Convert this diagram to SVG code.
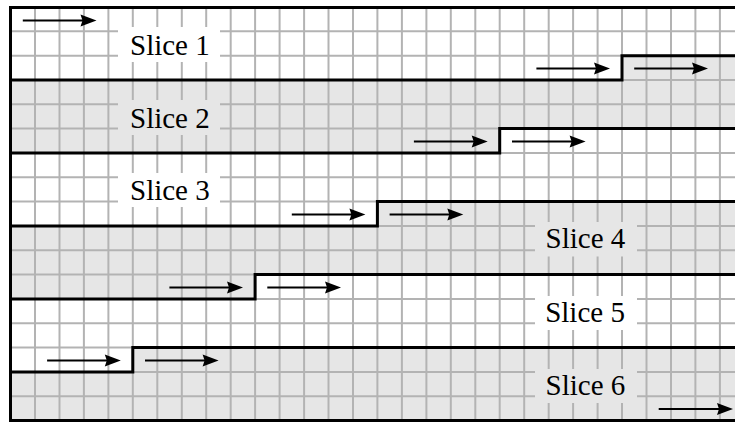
<svg xmlns="http://www.w3.org/2000/svg" width="735" height="422" viewBox="0 0 735 422">
  <style>
    .shade { fill: #e6e6e6; stroke: none; }
    .grid line { stroke: #b3b3b3; stroke-width: 2; }
    .bg-white { fill: #ffffff; }
    .bg-gray { fill: #e6e6e6; }
    .boundary { fill: none; stroke: #000000; stroke-width: 3; stroke-linejoin: miter; }
    .frame { fill: none; stroke: #000000; stroke-width: 3; }
    .shaft { stroke: #000000; stroke-width: 2; }
  </style>
  <defs>
    <path id="head" d="M0,0 L-16,-6 L-14,0 L-16,6 Z" fill="#000000"/>
  </defs>

  <rect x="0" y="0" width="735" height="422" fill="#ffffff"/>

  <!-- shaded slices 2, 4, 6 -->
  <g id="slice-fills">
    <polygon class="shade" points="10.5,80 622,80 622,55.7 735,55.7 735,128.6 499.7,128.6 499.7,153 10.5,153"/>
    <polygon class="shade" points="10.5,226 377.4,226 377.4,201.6 735,201.6 735,274.6 255.1,274.6 255.1,299 10.5,299"/>
    <polygon class="shade" points="10.5,372 132.8,372 132.8,347.6 735,347.6 735,422 10.5,422"/>
  </g>

  <!-- square grid -->
  <g class="grid" id="grid">
    <line x1="35" y1="7" x2="35" y2="421"/>
    <line x1="59.5" y1="7" x2="59.5" y2="421"/>
    <line x1="83.9" y1="7" x2="83.9" y2="421"/>
    <line x1="108.4" y1="7" x2="108.4" y2="421"/>
    <line x1="132.8" y1="7" x2="132.8" y2="421"/>
    <line x1="157.3" y1="7" x2="157.3" y2="421"/>
    <line x1="181.8" y1="7" x2="181.8" y2="421"/>
    <line x1="206.2" y1="7" x2="206.2" y2="421"/>
    <line x1="230.7" y1="7" x2="230.7" y2="421"/>
    <line x1="255.1" y1="7" x2="255.1" y2="421"/>
    <line x1="279.6" y1="7" x2="279.6" y2="421"/>
    <line x1="304.1" y1="7" x2="304.1" y2="421"/>
    <line x1="328.5" y1="7" x2="328.5" y2="421"/>
    <line x1="353" y1="7" x2="353" y2="421"/>
    <line x1="377.4" y1="7" x2="377.4" y2="421"/>
    <line x1="401.9" y1="7" x2="401.9" y2="421"/>
    <line x1="426.4" y1="7" x2="426.4" y2="421"/>
    <line x1="450.8" y1="7" x2="450.8" y2="421"/>
    <line x1="475.3" y1="7" x2="475.3" y2="421"/>
    <line x1="499.7" y1="7" x2="499.7" y2="421"/>
    <line x1="524.2" y1="7" x2="524.2" y2="421"/>
    <line x1="548.7" y1="7" x2="548.7" y2="421"/>
    <line x1="573.1" y1="7" x2="573.1" y2="421"/>
    <line x1="597.6" y1="7" x2="597.6" y2="421"/>
    <line x1="622" y1="7" x2="622" y2="421"/>
    <line x1="646.5" y1="7" x2="646.5" y2="421"/>
    <line x1="671" y1="7" x2="671" y2="421"/>
    <line x1="695.4" y1="7" x2="695.4" y2="421"/>
    <line x1="719.9" y1="7" x2="719.9" y2="421"/>
    <line x1="10.5" y1="31.3" x2="735" y2="31.3"/>
    <line x1="10.5" y1="55.7" x2="735" y2="55.7"/>
    <line x1="10.5" y1="80" x2="735" y2="80"/>
    <line x1="10.5" y1="104.3" x2="735" y2="104.3"/>
    <line x1="10.5" y1="128.6" x2="735" y2="128.6"/>
    <line x1="10.5" y1="153" x2="735" y2="153"/>
    <line x1="10.5" y1="177.3" x2="735" y2="177.3"/>
    <line x1="10.5" y1="201.6" x2="735" y2="201.6"/>
    <line x1="10.5" y1="226" x2="735" y2="226"/>
    <line x1="10.5" y1="250.3" x2="735" y2="250.3"/>
    <line x1="10.5" y1="274.6" x2="735" y2="274.6"/>
    <line x1="10.5" y1="299" x2="735" y2="299"/>
    <line x1="10.5" y1="323.3" x2="735" y2="323.3"/>
    <line x1="10.5" y1="347.6" x2="735" y2="347.6"/>
    <line x1="10.5" y1="372" x2="735" y2="372"/>
    <line x1="10.5" y1="396.3" x2="735" y2="396.3"/>
  </g>

  <!-- slice labels -->
  <g id="slice-1">
    <rect class="bg-white" x="118" y="27" width="102" height="35"/>
    <text style="font-family:'Liberation Serif',serif;font-size:29px" x="130" y="55">Slice 1</text>
  </g>
  <g id="slice-2">
    <rect class="bg-gray" x="118" y="100" width="102" height="35"/>
    <text style="font-family:'Liberation Serif',serif;font-size:29px" x="130" y="128">Slice 2</text>
  </g>
  <g id="slice-3">
    <rect class="bg-white" x="118" y="173" width="102" height="34"/>
    <text style="font-family:'Liberation Serif',serif;font-size:29px" x="130" y="200">Slice 3</text>
  </g>
  <g id="slice-4">
    <rect class="bg-gray" x="535" y="222" width="102" height="34.5"/>
    <text style="font-family:'Liberation Serif',serif;font-size:29px" x="545.6" y="248.3">Slice 4</text>
  </g>
  <g id="slice-5">
    <rect class="bg-white" x="535" y="296" width="102" height="34"/>
    <text style="font-family:'Liberation Serif',serif;font-size:29px" x="545.2" y="321.7">Slice 5</text>
  </g>
  <g id="slice-6">
    <rect class="bg-gray" x="535" y="369" width="102" height="34"/>
    <text style="font-family:'Liberation Serif',serif;font-size:29px" x="545.6" y="395">Slice 6</text>
  </g>

  <!-- stepped slice boundaries -->
  <g id="boundaries">
    <polyline class="boundary" points="10.5,80 622,80 622,55.7 735,55.7"/>
    <polyline class="boundary" points="10.5,153 499.7,153 499.7,128.6 735,128.6"/>
    <polyline class="boundary" points="10.5,226 377.4,226 377.4,201.6 735,201.6"/>
    <polyline class="boundary" points="10.5,299 255.1,299 255.1,274.6 735,274.6"/>
    <polyline class="boundary" points="10.5,372 132.8,372 132.8,347.6 735,347.6"/>
  </g>

  <!-- outer frame (open at the right) -->
  <polyline class="frame" points="737,7.5 10.5,7.5 10.5,420.5 737,420.5"/>

  <!-- direction arrows: shaft plus a head placed at the tip -->
  <g id="connectors">
    <line class="shaft" x1="22.8" y1="20.5" x2="90" y2="20.5"/>
    <use href="#head" x="96.5" y="20.5"/>
    <line class="shaft" x1="536.4" y1="68.4" x2="603" y2="68.4"/>
    <use href="#head" x="610" y="68.4"/>
    <line class="shaft" x1="634.2" y1="68.4" x2="701" y2="68.4"/>
    <use href="#head" x="708" y="68.4"/>
    <line class="shaft" x1="413.9" y1="141.4" x2="481" y2="141.4"/>
    <use href="#head" x="487.7" y="141.4"/>
    <line class="shaft" x1="512" y1="141.4" x2="579" y2="141.4"/>
    <use href="#head" x="585.6" y="141.4"/>
    <line class="shaft" x1="291.8" y1="214.4" x2="359" y2="214.4"/>
    <use href="#head" x="365.4" y="214.4"/>
    <line class="shaft" x1="389.6" y1="214.4" x2="457" y2="214.4"/>
    <use href="#head" x="463.3" y="214.4"/>
    <line class="shaft" x1="169.4" y1="287.4" x2="236" y2="287.4"/>
    <use href="#head" x="243" y="287.4"/>
    <line class="shaft" x1="267.3" y1="287.4" x2="334" y2="287.4"/>
    <use href="#head" x="341" y="287.4"/>
    <line class="shaft" x1="47.1" y1="360.6" x2="114" y2="360.6"/>
    <use href="#head" x="120.8" y="360.6"/>
    <line class="shaft" x1="145" y1="360.6" x2="212" y2="360.6"/>
    <use href="#head" x="218.6" y="360.6"/>
    <line class="shaft" x1="658.7" y1="409" x2="726" y2="409"/>
    <use href="#head" x="733" y="409"/>
  </g>
</svg>
